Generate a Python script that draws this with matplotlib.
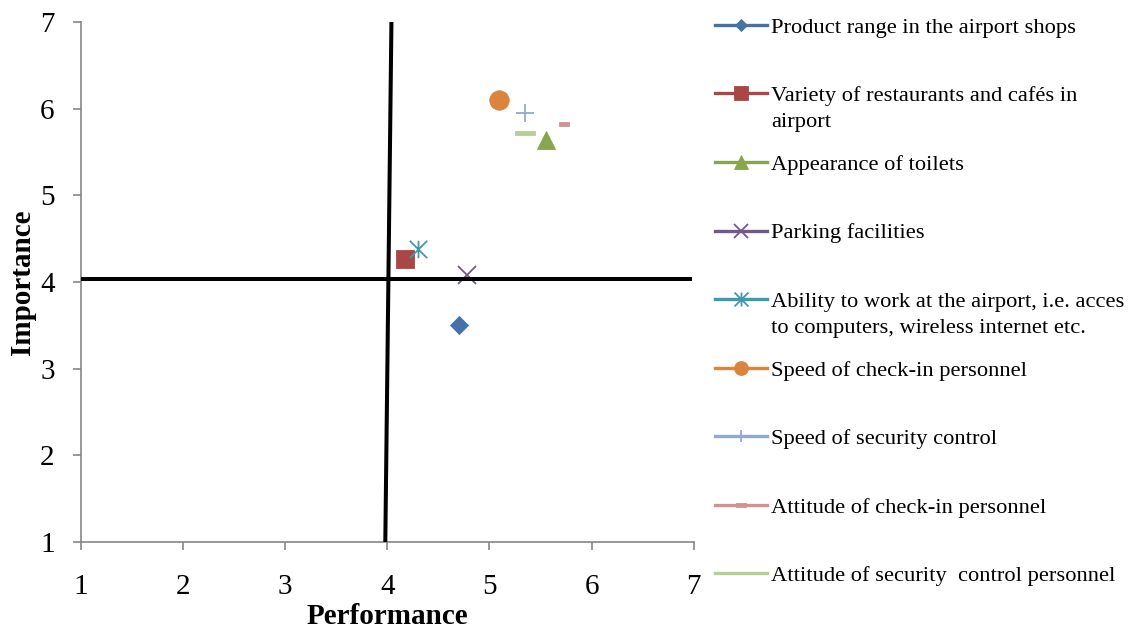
import matplotlib
matplotlib.use("Agg")
import matplotlib.pyplot as plt
from matplotlib.lines import Line2D
from matplotlib.path import Path

# ---- data ---------------------------------------------------------------
attributes = [
    "Product range in the airport shops",
    "Variety of restaurants and cafés in",
    "Appearance of toilets",
    "Parking facilities",
    "Ability to work at the airport, i.e. acces",
    "Speed of check-in personnel",
    "Speed of security control",
    "Attitude of check-in personnel",
    "Attitude of security  control personnel",
]
# second lines of the wrapped legend labels (index -> text)
label_continuations = {1: "airport", 4: "to computers, wireless internet etc."}

performance = [4.70, 4.17, 5.55, 4.78, 4.30, 5.09, 5.35, 5.73, 5.35]
importance = [3.50, 4.27, 5.64, 4.08, 4.38, 6.10, 5.95, 5.82, 5.72]

# quadrant divider lines
vline_x = [3.98, 4.04]
vline_y = [1.0, 7.0]
hline_x = [1.0, 6.98]
hline_y = [4.035, 4.035]

ticks = [1, 2, 3, 4, 5, 6, 7]

# ---- styling ------------------------------------------------------------
colors = ["#4572A7", "#AA4643", "#89A54E", "#71588F", "#4198AF",
          "#DB843D", "#93A9CF", "#D19392", "#B9CD96"]

asterisk = Path(
    [(0, -1), (0, 1), (-1, -1), (1, 1), (-1, 1), (1, -1)],
    [Path.MOVETO, Path.LINETO, Path.MOVETO, Path.LINETO, Path.MOVETO, Path.LINETO],
)
short_dash = Path([(-1, -0.46), (1, -0.46), (1, 0.46), (-1, 0.46), (-1, -0.46)], closed=True)
long_dash = Path([(-1, -0.26), (1, -0.26), (1, 0.26), (-1, 0.26), (-1, -0.26)], closed=True)

markers = ["D", "s", "^", "x", asterisk, "o", "+", short_dash, long_dash]
plot_sizes = [9.5, 12.5, 13.5, 12.5, 12.5, 14.0, 13.0, 7.4, 13.7]
legend_sizes = [6.6, 9.5, 10.5, 9.5, 10.0, 10.0, 9.0, 6.5, 6.5]
line_markers = {"x", "+"}

serif = ["Liberation Serif", "DejaVu Serif"]
plt.rcParams["font.family"] = serif

fig = plt.figure(figsize=(11.28, 6.30), dpi=100)
ax = fig.add_axes([81 / 1128, 88 / 630, 612.7 / 1128, 520 / 630])


def marker_style(i, size):
    m = markers[i]
    c = colors[i]
    if (isinstance(m, str) and m in line_markers) or m is asterisk:
        return dict(marker=m, markersize=size, markeredgecolor=c,
                    markerfacecolor="none", markeredgewidth=1.3)
    return dict(marker=m, markersize=size, markeredgecolor=c,
                markerfacecolor=c, markeredgewidth=0.6)


for i in range(len(attributes)):
    ax.plot([performance[i]], [importance[i]], linestyle="none",
            zorder=3, **marker_style(i, plot_sizes[i]))

ax.plot(vline_x, vline_y, color="black", lw=2.9, solid_capstyle="butt",
        zorder=4, clip_on=False)
ax.plot(hline_x, hline_y, color="black", lw=2.9, solid_capstyle="butt",
        zorder=4, clip_on=False)

ax.set_xlim(1, 7)
ax.set_ylim(1, 7)
ax.set_xticks(ticks)
ax.set_yticks(ticks)
ax.set_xticklabels([str(t) for t in ticks])
ax.set_yticklabels([str(t) for t in ticks])

axis_grey = "#868686"
for side in ("top", "right"):
    ax.spines[side].set_visible(False)
for side in ("left", "bottom"):
    ax.spines[side].set_color(axis_grey)
    ax.spines[side].set_linewidth(1.2)

ax.tick_params(axis="both", direction="out", length=6, width=1.2,
               color=axis_grey, labelsize=21, labelcolor="black")
ax.tick_params(axis="x", pad=17)
ax.tick_params(axis="y", pad=13)

ax.set_xlabel("Performance", fontsize=21, fontweight="bold", labelpad=2)
ax.set_ylabel("Importance", fontsize=21, fontweight="bold", labelpad=3)

# ---- legend -------------------------------------------------------------
handles = [
    Line2D([0], [0], color=colors[i], lw=2.4, **marker_style(i, legend_sizes[i]))
    for i in range(len(attributes))
]
leg = ax.legend(handles, attributes, loc="upper left",
                bbox_to_anchor=(715 / 1128, 1 - 17 / 630),
                bbox_transform=fig.transFigure, frameon=False, fontsize=16.2,
                handlelength=2.3, handletextpad=0.18, labelspacing=2.125,
                borderpad=0, borderaxespad=0)

for idx, extra in label_continuations.items():
    ax.annotate(extra, xy=(0, 0), xycoords=leg.get_texts()[idx],
                xytext=(0, -18.7), textcoords="offset points",
                ha="left", va="bottom", fontsize=16.2, zorder=10)

fig.savefig("out.png", dpi=100)
